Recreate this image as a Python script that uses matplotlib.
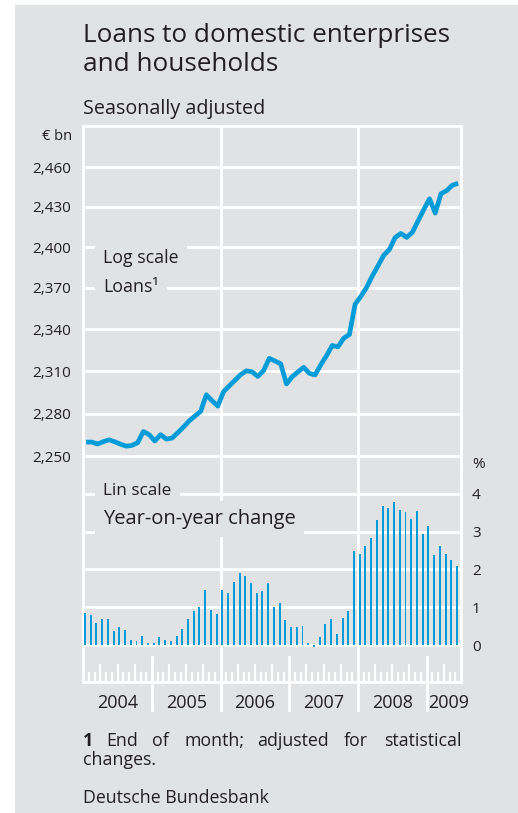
import numpy as np
import matplotlib.pyplot as plt
from matplotlib.patches import Rectangle
from matplotlib.ticker import NullLocator

plt.rcParams['font.family'] = ['Open Sans', 'DejaVu Sans']

# -----------------------------
# Data: monthly, Jan 2004 - Jun 2009
# -----------------------------
years = ['2004', '2005', '2006', '2007', '2008', '2009']

# loans to domestic enterprises and households, € bn (end of month)
loans = [2260.0, 2260.0, 2258.7, 2260.3, 2261.6, 2260.2, 2258.6, 2257.2, 2257.7, 2259.6, 2267.4, 2265.2,
         2260.8, 2265.2, 2262.1, 2262.8, 2266.5, 2270.5, 2274.8, 2278.2, 2281.5, 2293.2, 2289.0, 2285.2,
         2295.4, 2299.5, 2303.5, 2307.5, 2310.2, 2309.5, 2306.2, 2310.4, 2319.1, 2317.2, 2315.2, 2300.9,
         2306.0, 2309.4, 2312.7, 2308.4, 2307.3, 2314.5, 2321.0, 2328.3, 2327.3, 2333.5, 2336.2, 2358.2,
         2363.8, 2370.3, 2378.8, 2386.2, 2394.0, 2398.3, 2407.2, 2410.1, 2407.2, 2411.0, 2419.5, 2428.0,
         2436.0, 2425.3, 2439.8, 2442.2, 2446.3, 2447.7]

# year-on-year change, %
yoy = [0.84, 0.79, 0.57, 0.68, 0.68, 0.37, 0.49, 0.39, 0.13, 0.11, 0.24, 0.06,
       0.05, 0.20, 0.13, 0.11, 0.23, 0.42, 0.68, 0.89, 1.01, 1.46, 0.94, 0.81,
       1.45, 1.39, 1.68, 1.92, 1.82, 1.65, 1.37, 1.42, 1.63, 1.01, 1.10, 0.66,
       0.49, 0.49, 0.51, 0.05, -0.06, 0.21, 0.56, 0.70, 0.29, 0.71, 0.89, 2.48,
       2.42, 2.63, 2.83, 3.30, 3.69, 3.64, 3.80, 3.58, 3.53, 3.33, 3.54, 2.95,
       3.15, 2.38, 2.62, 2.40, 2.24, 2.10]

loan_ticks = [2250, 2280, 2310, 2340, 2370, 2400, 2430, 2460]
pct_ticks = [0, 1, 2, 3, 4]

n = len(loans)
bg = '#e1e2e4'
blue = '#009cd8'
txt = '#231f20'

W, H = 518, 813
fig = plt.figure(figsize=(W / 100, H / 100), dpi=100)
fig.patch.set_facecolor('white')
fig.patches.append(Rectangle((15 / W, 0), 1 - 15 / W, 1 - 5 / H, transform=fig.transFigure,
                             facecolor=bg, edgecolor='none', zorder=-10))


def fx(x):
    return x / W


def fy(y):
    return 1 - y / H


L, R = 83.3, 461.0
TOP, MID, BOT = 126, 475, 682

# -----------------------------
# Top panel: loans, log scale
# -----------------------------
ax1 = fig.add_axes([fx(L), fy(MID), (R - L) / W, (MID - TOP) / H])
ax1.set_facecolor(bg)
ax1.plot(np.arange(n) + 0.5, loans, color=blue, lw=3.4, solid_joinstyle='round',
         solid_capstyle='butt', zorder=3)
ax1.set_yscale('log')
ax1.set_ylim(2237.2, 2491.3)
ax1.set_xlim(0, 66)
ax1.set_yticks(loan_ticks)
ax1.set_yticklabels([f'{v:,}' for v in loan_ticks])
ax1.yaxis.set_minor_locator(NullLocator())
ax1.set_xticks([])
ax1.tick_params(axis='y', length=0, pad=8.5, labelsize=11, labelcolor=txt)
ax1.grid(axis='y', color='white', lw=2)
ax1.set_axisbelow(True)
for x in (24, 48):
    ax1.axvline(x, color='white', lw=2, zorder=1)
for s in ('top', 'left', 'right'):
    ax1.spines[s].set_color('white')
    ax1.spines[s].set_linewidth(2)
ax1.spines['bottom'].set_visible(False)

# -----------------------------
# Bottom panel: year-on-year change, linear scale
# -----------------------------
ax2 = fig.add_axes([fx(L), fy(BOT), (R - L) / W, (BOT - MID) / H])
ax2.set_facecolor(bg)
ax2.bar(np.arange(n) + 0.3, yoy, width=0.34, color=blue, zorder=3)
ax2.set_xlim(0, 66)
ax2.set_ylim(-0.98, 4.503)
ax2.yaxis.tick_right()
ax2.set_yticks(pct_ticks)
ax2.set_yticklabels([str(v) for v in pct_ticks])
ax2.tick_params(axis='y', length=0, pad=8, labelsize=11, labelcolor=txt)
ax2.grid(axis='y', color='white', lw=2)
ax2.set_axisbelow(True)
for s in ('bottom', 'left', 'right'):
    ax2.spines[s].set_color('white')
    ax2.spines[s].set_linewidth(2)
ax2.spines['top'].set_visible(False)

# month / quarter ticks
months = np.arange(1, 66)
quarters = [m for m in months if m % 3 == 0 and m % 12 != 0]
others = [m for m in months if m % 3 != 0]
ax2.set_xticks(quarters)
ax2.set_xticks(others, minor=True)
ax2.set_xticklabels([])
ax2.tick_params(axis='x', which='major', direction='in', length=13, width=1.6, color='white')
ax2.tick_params(axis='x', which='minor', direction='in', length=7.2, width=1.6, color='white')

# year separators
for x in (12, 36, 60):
    ax2.axvline(x, ymin=-0.135, ymax=0.121, color='white', lw=2, clip_on=False, zorder=1)
for x in (24, 48):
    ax2.axvline(x, ymin=-0.135, ymax=1, color='white', lw=2, clip_on=False, zorder=1)

year_pos = [6, 18, 30, 42, 54, 63.9]
for yr, xp in zip(years, year_pos):
    ax2.text(xp, -0.10, yr, transform=ax2.get_xaxis_transform(), ha='center', va='center',
             fontsize=13, color=txt)

# -----------------------------
# Texts
# -----------------------------
fig.text(fx(83.3), fy(41.7), 'Loans to domestic enterprises', fontsize=18.8, color=txt, va='baseline')
fig.text(fx(83.3), fy(70.7), 'and households', fontsize=18.8, color=txt, va='baseline')
fig.text(fx(83.3), fy(114), 'Seasonally adjusted', fontsize=14.2, color=txt, va='baseline')
fig.text(fx(72), fy(140), '€ bn', fontsize=10.5, color=txt, ha='right', va='baseline')
fig.text(fx(472), fy(464), '%', fontsize=11, color=txt, ha='left', va='center')

box = dict(facecolor=bg, edgecolor='none', pad=6)
fig.text(fx(103), fy(258), 'Log scale', fontsize=12.8, color=txt, va='center', bbox=box, zorder=5)
fig.text(fx(103), fy(287), 'Loans¹', fontsize=12.8, color=txt, va='center', bbox=box, zorder=5)
fig.text(fx(103), fy(491), 'Lin scale', fontsize=12.3, color=txt, va='center', bbox=box, zorder=5)
fig.text(fx(103), fy(519), 'Year-on-year change', fontsize=14.5, color=txt, va='center', bbox=box, zorder=5)

# footnote, justified by hand
fig.text(fx(83.3), fy(741), '1', fontsize=12.8, color=txt, va='center', fontweight='bold')
words = [('End', 106.7), ('of', 152), ('month;', 185), ('adjusted', 256.7), ('for', 344)]
for w, xp in words:
    fig.text(fx(xp), fy(741), w, fontsize=12.8, color=txt, va='center')
fig.text(fx(461.5), fy(741), 'statistical', fontsize=12.8, color=txt, va='center', ha='right')
fig.text(fx(83.3), fy(760), 'changes.', fontsize=12.8, color=txt, va='center')
fig.text(fx(83.3), fy(798), 'Deutsche Bundesbank', fontsize=12.8, color=txt, va='center')

fig.savefig('out.png', dpi=100, facecolor=fig.get_facecolor())
